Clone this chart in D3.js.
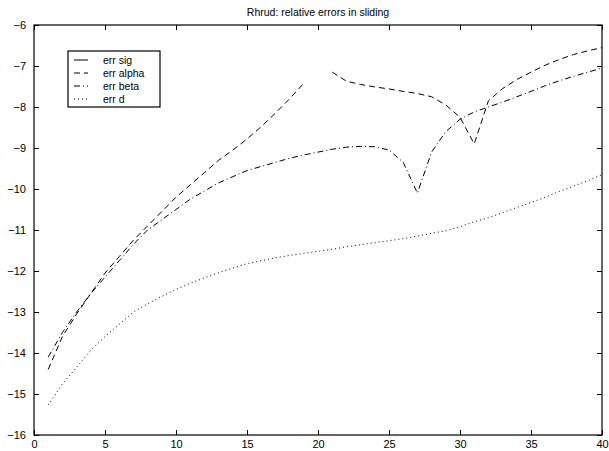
<!DOCTYPE html>
<html>
<head>
<meta charset="utf-8">
<script src="https://cdn.jsdelivr.net/npm/d3@7"></script>
<style>
  body { margin: 0; background: #fff; }
  text { font-family: "Liberation Sans", Arial, sans-serif; }
</style>
</head>
<body>
<div id="chart"></div>
<script>
var margin = {top: 25, right: 7, bottom: 16, left: 34},
  width = 609 - margin.left - margin.right,
  height = 451 - margin.top - margin.bottom;

// x = 1..40
var steps = d3.range(1, 41);

// err sig never shows inside the axes
var errSig = [];

var errAlpha = [-14.4, -13.6, -13.05, -12.55, -12.05, -11.65, -11.25, -10.9, -10.55, -10.2,
  -9.9, -9.6, -9.3, -9.05, -8.78, -8.48, -8.15, -7.8, -7.42, null,
  -7.15, -7.37, -7.45, -7.51, -7.56, -7.62, -7.67, -7.75, -7.95, -8.25,
  -8.9, -7.85, -7.55, -7.33, -7.15, -6.98, -6.84, -6.72, -6.63, -6.55];

var errBeta = [-14.1, -13.5, -13.0, -12.55, -12.15, -11.75, -11.35, -11.0, -10.75, -10.5,
  -10.25, -10.05, -9.85, -9.7, -9.55, -9.45, -9.35, -9.25, -9.17, -9.1,
  -9.03, -8.98, -8.96, -8.97, -9.05, -9.35, -10.1, -9.1, -8.6, -8.3,
  -8.12, -8.0, -7.88, -7.75, -7.62, -7.48, -7.36, -7.25, -7.15, -7.05];

var errD = [-15.27, -14.75, -14.35, -13.93, -13.6, -13.3, -13.0, -12.8, -12.62, -12.45,
  -12.3, -12.17, -12.04, -11.93, -11.82, -11.75, -11.68, -11.62, -11.57, -11.52,
  -11.47, -11.41, -11.36, -11.31, -11.26, -11.21, -11.15, -11.08, -11.02, -10.92,
  -10.8, -10.7, -10.58, -10.45, -10.33, -10.2, -10.06, -9.93, -9.8, -9.65];

var xTicks = [0, 5, 10, 15, 20, 25, 30, 35, 40];
var yTicks = [-16, -15, -14, -13, -12, -11, -10, -9, -8, -7, -6];

var series = [
  {name: "err sig", values: errSig, dash: null},
  {name: "err alpha", values: errAlpha, dash: "6,4"},
  {name: "err beta", values: errBeta, dash: "6,3,1,3"},
  {name: "err d", values: errD, dash: "1,3"}
];

var svg = d3.select("#chart").append("svg")
  .attr("width", 609)
  .attr("height", 451);

var g = svg.append("g")
  .attr("transform", "translate(" + margin.left + "," + margin.top + ")");

var x = d3.scaleLinear().domain([0, 40]).range([0, width]);
var y = d3.scaleLinear().domain([-16, -6]).range([height, 0]);

var fmt = function(d) { return d < 0 ? "\u2212" + Math.abs(d) : d; };

// box and ticks
g.append("rect")
  .attr("width", width)
  .attr("height", height)
  .attr("fill", "none")
  .attr("stroke", "#000")
  .attr("stroke-width", 1.2);

g.append("g")
  .attr("transform", "translate(0," + height + ")")
  .call(d3.axisBottom(x).tickValues(xTicks).tickSizeInner(-5).tickSizeOuter(0).tickPadding(7).tickFormat(fmt))
  .call(function(a) { a.select(".domain").remove(); })
  .selectAll("text").attr("dy", "0.55em");

g.append("g")
  .call(d3.axisTop(x).tickValues(xTicks).tickSizeInner(-5).tickSizeOuter(0).tickFormat(""))
  .call(function(a) { a.select(".domain").remove(); });

g.append("g")
  .call(d3.axisLeft(y).tickValues(yTicks).tickSizeInner(-5).tickSizeOuter(0).tickPadding(8).tickFormat(fmt))
  .call(function(a) { a.select(".domain").remove(); });

g.append("g")
  .attr("transform", "translate(" + width + ",0)")
  .call(d3.axisRight(y).tickValues(yTicks).tickSizeInner(-5).tickSizeOuter(0).tickFormat(""))
  .call(function(a) { a.select(".domain").remove(); });

g.selectAll(".tick text")
  .style("font-size", "11px")
  .attr("fill", "#000");
g.selectAll(".tick line").attr("stroke", "#000");

// title
g.append("text")
  .attr("x", width / 2)
  .attr("y", -9)
  .attr("text-anchor", "middle")
  .style("font-size", "10.5px")
  .text("Rhrud: relative errors in sliding");

// curves
var line = d3.line()
  .defined(function(d) { return d[1] != null; })
  .x(function(d) { return x(d[0]); })
  .y(function(d) { return y(d[1]); });

series.forEach(function(s) {
  if (!s.values.length) return;
  g.append("path")
    .datum(steps.map(function(t, i) { return [t, s.values[i]]; }))
    .attr("d", line)
    .attr("fill", "none")
    .attr("stroke", "#000")
    .attr("stroke-width", 1)
    .attr("stroke-dasharray", s.dash);
});

// legend
var legend = g.append("g")
  .attr("transform", "translate(" + (68 - margin.left) + "," + (51 - margin.top) + ")");

legend.append("rect")
  .attr("width", 92)
  .attr("height", 56)
  .attr("fill", "#fff")
  .attr("stroke", "#000")
  .attr("stroke-width", 1.2);

var item = legend.selectAll(".item")
  .data(series)
  .enter().append("g")
  .attr("class", "item")
  .attr("transform", function(d, i) { return "translate(0," + (9 + i * 13) + ")"; });

item.append("line")
  .attr("x1", 6)
  .attr("x2", 20)
  .attr("stroke", "#000")
  .attr("stroke-width", 1)
  .attr("stroke-dasharray", function(d) { return d.dash; });

item.append("text")
  .attr("x", 35)
  .attr("dy", "0.35em")
  .style("font-size", "10.5px")
  .text(function(d) { return d.name; });
</script>
</body>
</html>
